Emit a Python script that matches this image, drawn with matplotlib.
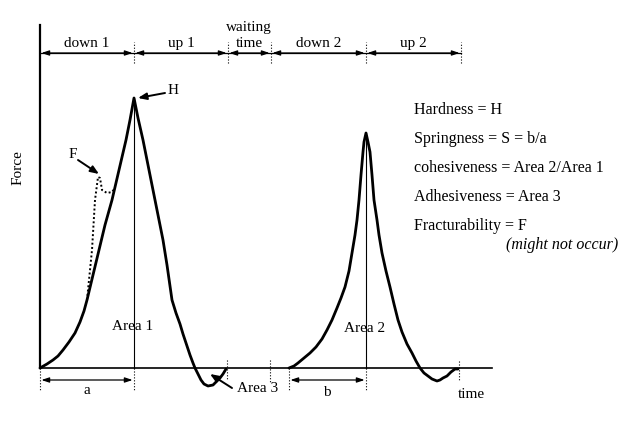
import matplotlib
matplotlib.use("Agg")
import matplotlib.pyplot as plt

plt.rcParams['font.family'] = ['Liberation Serif', 'DejaVu Serif']

# texture profile analysis curve (time, force)
t1 = [0, 7, 13, 18, 23, 29, 35, 40, 44, 47, 53, 59, 65, 72, 79, 86, 90, 94,
      98, 103, 109, 115, 119, 123, 127, 132, 136, 140, 143, 146, 150, 153,
      155, 158, 161, 164, 168, 173, 177, 180, 183, 186]
f1 = [0, 4, 8, 12, 18, 26, 35, 46, 57, 68, 93, 118, 143, 168, 198, 228, 248, 270,
      250, 228, 198, 168, 148, 128, 103, 68, 55, 44, 34, 25, 13, 5,
      0, -6, -12, -16, -18, -17, -13, -10, -6, -1]
t2 = [249, 254, 258, 264, 270, 276, 282, 287, 292, 297, 301, 305, 309, 312,
      315, 317, 319, 321, 323, 324, 326,
      328, 330, 332, 334, 337, 339, 342, 346, 350, 354, 358, 362, 367, 372,
      376, 380, 384, 388, 392, 397, 400, 403, 407, 411, 415, 418]
f2 = [0, 2, 5, 10, 15, 21, 29, 38, 48, 60, 70, 81, 97, 115,
      133, 148, 168, 193, 216, 226, 235,
      226, 216, 193, 168, 148, 133, 115, 97, 81, 64, 48, 36, 24, 15,
      7, 0, -5, -8, -11, -13, -12, -10, -8, -4, -1, -1]
# fracture (dotted)
tf = [47, 52, 55, 58, 60, 62, 67, 72, 75]
ff = [68, 118, 168, 191, 190, 178, 175, 176, 180]

phase_edges = [0, 94, 188, 231, 326, 421]
phase_names = ['down 1', 'up 1', 'time', 'down 2', 'up 2']

props = ['Hardness = H', 'Springness = S = b/a', 'cohesiveness = Area 2/Area 1',
         'Adhesiveness = Area 3', 'Fracturability = F']

fig = plt.figure(figsize=(6.29, 4.26), dpi=100)
ax = fig.add_axes([0, 0, 1, 1])
ax.set_xlim(-40, 589)
ax.set_ylim(-58, 368)
ax.axis('off')

# axes
ax.plot([0, 0], [0, 343], color='black', lw=1.6)
ax.plot([0, 452], [0, 0], color='black', lw=1.2)

# curves
kw = dict(color='black', lw=2.0, solid_joinstyle='round', solid_capstyle='round')
ax.plot(t1, f1, **kw)
ax.plot(t2, f2, **kw)
ax.plot(tf, ff, color='black', lw=1.4, ls=(0, (1, 1.2)))

# peak verticals
ax.plot([94, 94], [0, 270], color='black', lw=0.8)
ax.plot([326, 326], [0, 235], color='black', lw=0.8)

# top phase bar
ax.plot([0, 421], [315, 315], color='black', lw=0.9)
for e in phase_edges[1:]:
    ax.plot([e, e], [305, 326], color='black', lw=0.8, ls=':')
ar = dict(arrowstyle='<|-|>,head_length=0.45,head_width=0.15', color='black', lw=0.9,
          shrinkA=1, shrinkB=1)
for i, name in enumerate(phase_names):
    a, b = phase_edges[i], phase_edges[i + 1]
    ax.annotate('', xy=(a, 315), xytext=(b, 315), arrowprops=ar)
    ax.text((a + b) / 2, 321, name, ha='center', va='baseline', fontsize=11)
ax.text(209, 337, 'waiting', ha='center', va='baseline', fontsize=11)

# bottom dotted markers
for x, top, bot in [(0, 0, -22), (94, 0, -22), (187, 8, -12), (230, 8, -14),
                    (249, 0, -22), (326, 0, -22), (419, 7, -12)]:
    ax.plot([x, x], [top, bot], color='black', lw=0.8, ls=':')

# a / b
ax.annotate('', xy=(0, -12), xytext=(94, -12), arrowprops=ar)
ax.annotate('', xy=(249, -12), xytext=(326, -12), arrowprops=ar)
ax.text(47, -22, 'a', ha='center', va='center', fontsize=11)
ax.text(287, -25, 'b', ha='center', va='center', fontsize=11)
ax.text(418, -26, 'time', ha='left', va='center', fontsize=11)

ax.text(93, 41, 'Area 1', ha='center', va='center', fontsize=11)
ax.text(325, 40, 'Area 2', ha='center', va='center', fontsize=11)
ax.text(197, -21, 'Area 3', ha='left', va='center', fontsize=11)
ax.text(-22, 200, 'Force', ha='center', va='center', rotation=90, fontsize=11)

pt = dict(arrowstyle='-|>,head_length=0.5,head_width=0.2', color='black', lw=1.4,
          shrinkA=0, shrinkB=0)
ax.annotate('', xy=(98, 270), xytext=(125, 275), arrowprops=pt)
ax.text(128, 278, 'H', ha='left', va='center', fontsize=11)
ax.annotate('', xy=(59, 194), xytext=(38, 208), arrowprops=pt)
ax.text(33, 214, 'F', ha='center', va='center', fontsize=11)
ax.annotate('', xy=(170, -6), xytext=(192, -20), arrowprops=pt)

# definitions
for i, s in enumerate(props):
    ax.text(374, 258 - i * 29, s, ha='left', va='center', fontsize=11.5)
ax.text(578, 123, '(might not occur)', ha='right', va='center', fontsize=11.5,
        style='italic')

fig.savefig('out.png', dpi=100)
